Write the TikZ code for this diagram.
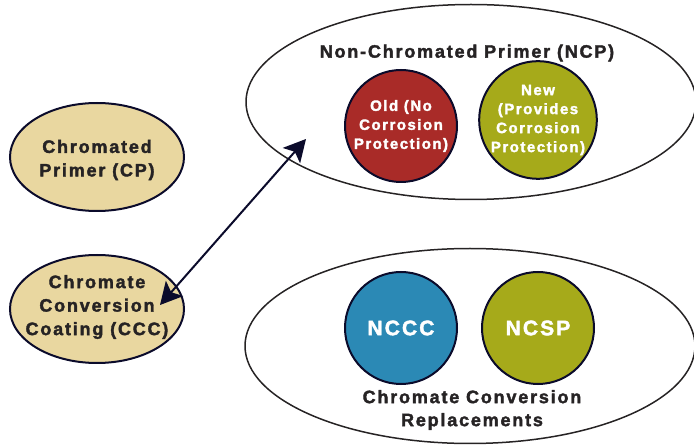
\documentclass[tikz,border=0pt]{standalone}
\usepackage{fontspec}
\newfontfamily\heavy{Liberation Sans Bold}[LetterSpace=10,FakeBold=2]
\usetikzlibrary{shapes.geometric,arrows.meta}
\definecolor{tan}{HTML}{E9D7A0}
\definecolor{rust}{HTML}{A92B28}
\definecolor{olive}{HTML}{A6AA1A}
\definecolor{teal}{HTML}{2B89B5}
\definecolor{navy}{HTML}{0B0B2B}
\definecolor{ink}{HTML}{262324}
\tikzset{
  chrome/.style={ellipse, draw=navy, line width=2pt, fill=tan, inner sep=0pt,
    minimum width=174pt, minimum height=108pt},
  chrometext/.style={text=ink, align=center, inner sep=0pt,
    font=\heavy\fontsize{18}{23.5}\selectfont},
  group/.style={ellipse, draw=ink, line width=1.5pt, inner sep=0pt,
    minimum width=450pt, minimum height=195pt},
  disc/.style={circle, draw=navy, line width=2pt, inner sep=0pt,
    minimum size=112pt, text=white, align=center},
  small/.style={font=\heavy\fontsize{15}{19}\selectfont},
  big/.style={font=\heavy\fontsize{21}{25}\selectfont},
  label/.style={text=ink, align=center, font=\heavy\fontsize{18}{23}\selectfont},
  link/.style={draw=navy, line width=2pt, {Stealth[length=22pt,width=23pt,inset=5pt]}-{Stealth[length=22pt,width=23pt,inset=5pt]}}
}
\begin{document}
\begin{tikzpicture}[x=1pt,y=-1pt]
\useasboundingbox (0,0) rectangle (694,446);
% left-hand chromate ellipses
\node[chrome] (cp) at (97,157) {};
\node[chrometext] (cptext) at (97,160) {Chromated\\Primer (CP)};
\node[chrome] (ccc) at (97,309) {};
\node[chrometext] (ccctext) at (97,307) {Chromate\\Conversion\\Coating (CCC)};
% grouping ellipses
\node[group] (ncp) at (471,102) {};
\node[group] (ccr) at (470,346) {};
\node[label] (ncplabel) at (467,53) {Non-Chromated Primer (NCP)};
\node[label] (ccrlabel) at (472,410) {Chromate Conversion\\Replacements};
% discs
\node[disc, fill=rust, small] (old) at (401,126) {Old (No\\Corrosion\\Protection)};
\node[disc, fill=olive, small] (new) at (538,120) {New\\(Provides\\Corrosion\\Protection)};
\node[disc, fill=teal, big] (nccc) at (401,328) {NCCC};
\node[disc, fill=olive, big] (ncsp) at (538,328) {NCSP};
% connector
\coordinate (ccctip) at (160,305);
\coordinate (ncptip) at (306,139);
\draw[link] (ccctip) -- (ncptip);
\end{tikzpicture}
\end{document}
